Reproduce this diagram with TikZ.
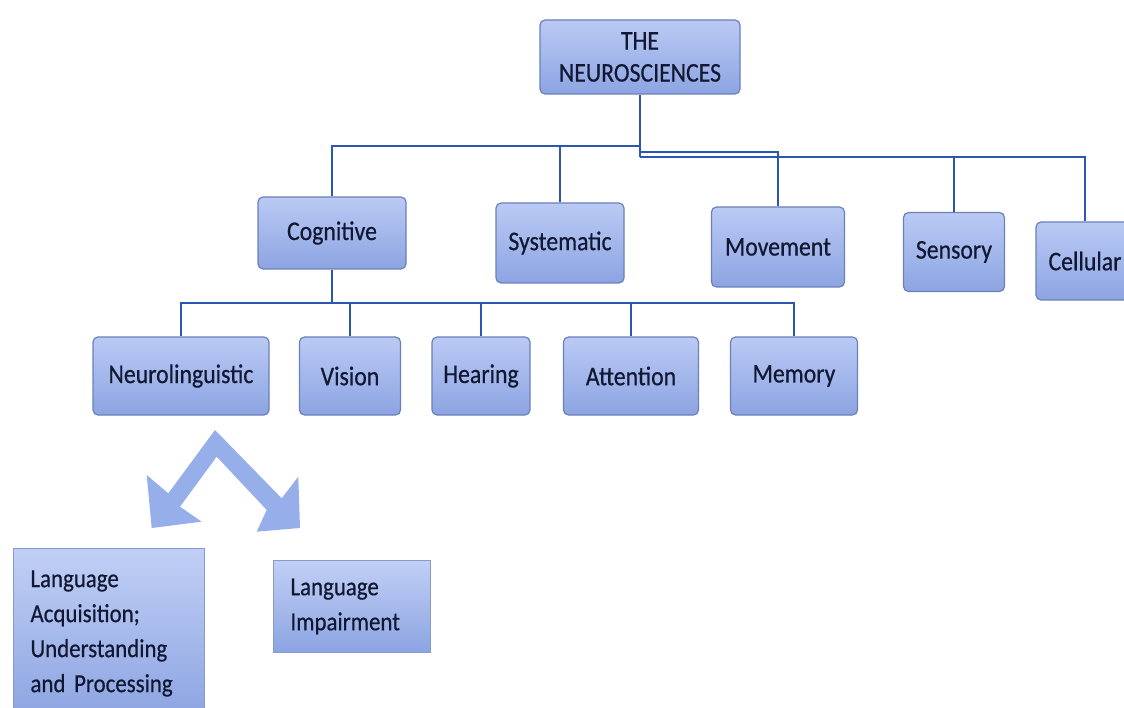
\documentclass[tikz,border=0pt]{standalone}
\usepackage{fontspec}
\setmainfont{Carlito}
\newfontfamily\boxfont[FakeStretch=0.88,FakeBold=0.5]{Carlito}
\definecolor{boxtop}{RGB}{186,202,244}
\definecolor{boxbot}{RGB}{140,164,226}
\definecolor{boxedge}{RGB}{108,128,186}
\definecolor{linkblue}{RGB}{44,86,178}
\definecolor{inkdark}{RGB}{18,24,50}
\definecolor{arrowfill}{RGB}{150,175,234}
\begin{document}
\begin{tikzpicture}[x=1pt,y=-1pt,
  box/.style={draw=boxedge,line width=1.2pt,rounded corners=5pt,
    top color=boxtop,bottom color=boxbot,text=inkdark,
    font=\boxfont\fontsize{27}{32}\selectfont,align=center,inner sep=0pt},
  flatbox/.style={draw=boxedge!80,line width=1pt,top color=boxtop!90,
    bottom color=boxbot,text=inkdark,font=\boxfont\fontsize{26}{35}\selectfont,
    align=left,inner xsep=17pt,inner ysep=0pt},
  link/.style={draw=linkblue,line width=2.2pt}]
  \clip (0,0) rectangle (1124,708);
  % top level
  \node[box,minimum width=200pt,minimum height=74pt] (neuro) at (640,57) {THE\\NEUROSCIENCES};
  \node[box,minimum width=148pt,minimum height=72pt] (cog) at (332,233) {Cognitive};
  \node[box,minimum width=128pt,minimum height=80pt] (sys) at (560,243) {Systematic};
  \node[box,minimum width=133pt,minimum height=80pt] (mov) at (778,247) {Movement};
  \node[box,minimum width=101pt,minimum height=79pt] (sen) at (954,252) {Sensory};
  \node[box,minimum width=98pt,minimum height=78pt] (cel) at (1085,261) {Cellular};
  \coordinate (busA) at (640,146);
  \coordinate (busB) at (640,152);
  \coordinate (busC) at (640,157);
  \draw[link] (neuro) -- (busC);
  \draw[link] (busA) -| (cog);
  \draw[link] (busA) -| (sys);
  \draw[link] (busB) -| (mov);
  \draw[link] (busC) -| (sen);
  \draw[link] (busC) -| (cel);
  % cognitive branch
  \node[box,minimum width=176pt,minimum height=78pt] (nl) at (181,376) {Neurolinguistic};
  \node[box,minimum width=101pt,minimum height=78pt] (vis) at (350,376) {Vision};
  \node[box,minimum width=98pt,minimum height=78pt] (hear) at (481,376) {Hearing};
  \node[box,minimum width=135pt,minimum height=78pt] (att) at (631,376) {Attention};
  \node[box,minimum width=127pt,minimum height=78pt] (mem) at (794,376) {Memory};
  \coordinate (busD) at (332,303);
  \draw[link] (cog) -- (busD);
  \foreach \n in {nl,vis,hear,att,mem}
    \draw[link] (busD) -| (\n);
  % split arrow
  \fill[arrowfill] (215,430) -- (281.7,498.3) -- (298.3,476.7) -- (300,528)
    -- (256.7,531.7) -- (266.7,510) -- (216.7,456.7) -- (180,506.7)
    -- (201.7,521.7) -- (151.7,528) -- (146.7,475) -- (168.3,493.3) -- cycle;
  \node[flatbox,anchor=north west,text width=157pt,minimum height=170pt] (acq) at (13,548)
    {Language\\Acquisition;\\Understanding\\and Processing};
  \node[flatbox,anchor=north west,text width=123pt,minimum height=92pt] (imp) at (273,560)
    {Language\\Impairment};
\end{tikzpicture}
\end{document}
